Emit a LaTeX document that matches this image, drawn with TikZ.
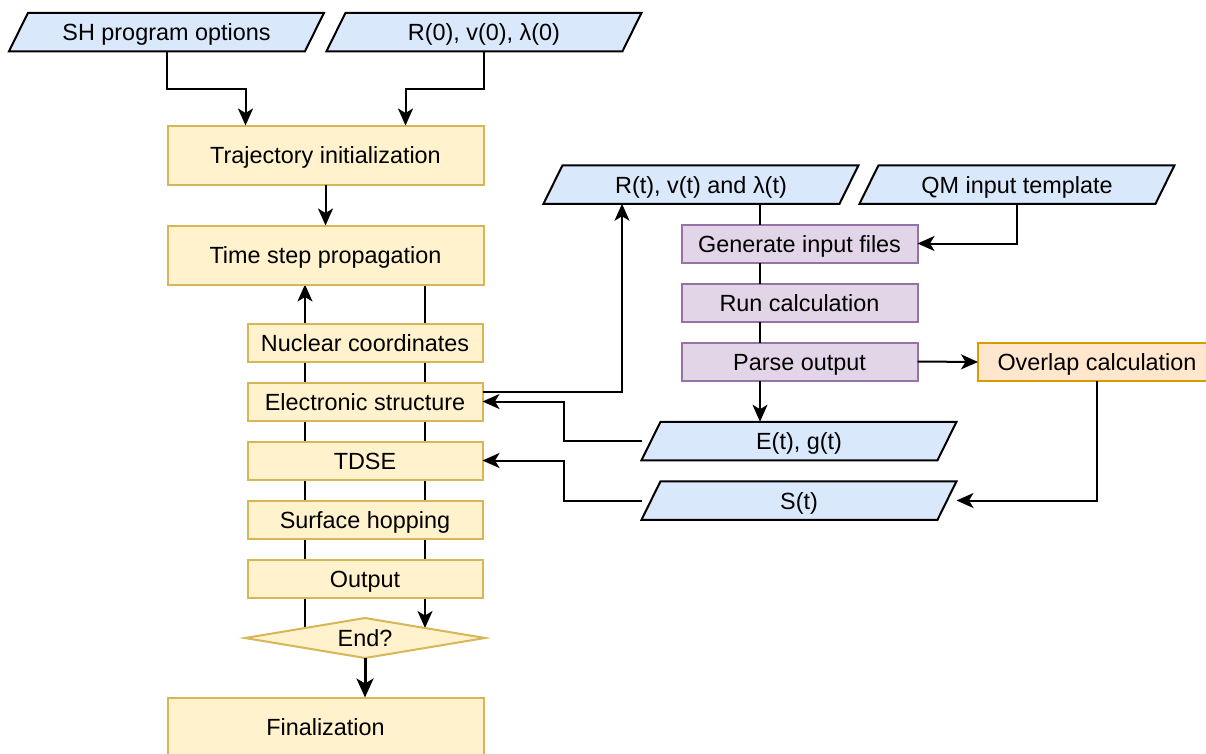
\documentclass[tikz,border=0pt]{standalone}
\usepackage{fontspec}
\setmainfont{Liberation Sans}
\usetikzlibrary{positioning}
\usetikzlibrary{shapes.geometric,calc}
\usetikzlibrary{arrows.meta,backgrounds}

\definecolor{iofill}{HTML}{DAE8FC}
\definecolor{stepfill}{HTML}{FFF2CC}
\definecolor{stepdraw}{HTML}{D6B656}
\definecolor{qmfill}{HTML}{E1D5E7}
\definecolor{qmdraw}{HTML}{9673A6}
\definecolor{ovfill}{HTML}{FFE6CC}
\definecolor{ovdraw}{HTML}{D79B00}

\begin{document}
\begin{tikzpicture}[x=1pt,y=-1pt,line width=2pt,
		every node/.style={outer sep=0pt,inner sep=0pt,font=\fontsize{23.4}{28}\selectfont,text height=18pt,text depth=1pt},
		io/.style={trapezium,trapezium left angle=45,trapezium right angle=135,trapezium stretches body=true,draw=black,fill=iofill,minimum width=315pt,minimum height=38.5pt},
		stepbox/.style={draw=stepdraw,fill=stepfill,minimum width=316pt,minimum height=59pt},
		substep/.style={draw=stepdraw,fill=stepfill,minimum width=235pt,minimum height=38pt},
		qmbox/.style={draw=qmdraw,fill=qmfill,minimum width=236pt,minimum height=38pt},
		flow/.style={-{Stealth[length=17pt,width=15pt,inset=4.5pt]}},
		]
		\useasboundingbox (0,0) rectangle (1206,753);

		\path (166.5,32) node[io] (opts) {SH program options};
		\path (484,32) node[io] (init0) {R(0), v(0), λ(0)};
		\path (325.5,155) node[stepbox] (trajinit) {Trajectory initialization};
		\path (325.5,255) node[stepbox] (prop) {Time step propagation};
		\path (365,342.5) node[substep] (nuc) {Nuclear coordinates};
		\node[substep,below=21pt of nuc] (elec) {Electronic structure};
		\node[substep,below=21pt of elec] (tdse) {TDSE};
		\node[substep,below=21pt of tdse] (hop) {Surface hopping};
		\node[substep,below=21pt of hop] (out) {Output};
		\path (365,638) node[diamond,aspect=6,draw=stepdraw,fill=stepfill,minimum width=240pt,minimum height=40pt] (endq) {End?};
		\path (325.5,727) node[stepbox] (fin) {Finalization};

		\path (701,184.5) node[io] (rvl) {R(t), v(t) and λ(t)};
		\path (1017,184.5) node[io] (qmtpl) {QM input template};
		\path (799.5,243.5) node[qmbox] (gen) {Generate input files};
		\node[qmbox,below=21pt of gen] (run) {Run calculation};
		\node[qmbox,below=21pt of run] (parse) {Parse output};
		\path (1097,362) node[draw=ovdraw,fill=ovfill,minimum width=238pt,minimum height=38pt] (ovl) {Overlap calculation};
		\path (799,441) node[io] (eg) {E(t), g(t)};
		\path (799,500.5) node[io] (st) {S(t)};
		\coordinate (col) at (760,0);

		\draw[flow] (opts.south) -- ++(0,38) -| ([xshift=-80pt]trajinit.north);
		\draw[flow] (init0.south) -- ++(0,38) -| ([xshift=80pt]trajinit.north);
		\draw[flow] (trajinit.south) -- (prop.north);
		\begin{scope}[on background layer]
			\draw[flow,line width=2pt] (endq.north west) -- (endq.north west |- prop.south);
			\draw[flow,line width=2pt] (prop.south -| endq.north east) -- (endq.north east);
		\end{scope}
		\draw[-{Stealth[length=19pt,width=17pt,inset=5pt]},line width=3pt] (endq.south) -- (endq.south |- fin.north);

		\draw (rvl.south -| col) -- (gen.north -| col);
		\draw (gen.south -| col) -- (run.north -| col);
		\draw (run.south -| col) -- (parse.north -| col);
		\draw[flow] (parse.south -| col) -- (eg.north -| col);
		\draw[flow] (qmtpl.south) |- (gen.east);
		\draw[flow] (parse.east) -- (ovl.west);
		\draw[flow] (ovl.south) |- (st.top right corner |- st.east);
		\draw[flow] (eg.bottom left corner |- eg.west) -- ++(-78,0) |- (elec.east);
		\draw[flow] (st.bottom left corner |- st.west) -- ++(-78,0) |- (tdse.east);
		\draw[flow] ([yshift=10pt]elec.east) -| ([xshift=-79pt]rvl.south);

	\end{tikzpicture}
\end{document}
